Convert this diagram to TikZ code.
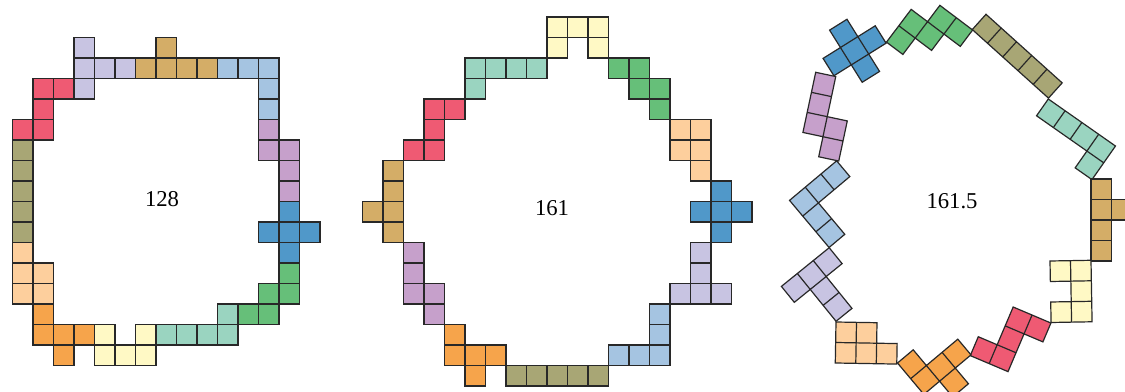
\documentclass[tikz,border=0pt]{standalone}
\usepackage{fontspec}
\setmainfont{Liberation Serif}
\definecolor{pLav}{RGB}{200,196,226}
\definecolor{pRed}{RGB}{239,90,115}
\definecolor{pOlive}{RGB}{168,166,117}
\definecolor{pPeach}{RGB}{253,207,157}
\definecolor{pOrange}{RGB}{246,164,75}
\definecolor{pYellow}{RGB}{255,249,197}
\definecolor{pTeal}{RGB}{154,212,192}
\definecolor{pGreen}{RGB}{102,191,121}
\definecolor{pBlue}{RGB}{80,152,201}
\definecolor{pMauve}{RGB}{198,160,203}
\definecolor{pSky}{RGB}{165,196,225}
\definecolor{pTan}{RGB}{212,173,103}
\definecolor{pEdge}{RGB}{40,40,40}
\tikzset{every picture/.style={line width=0.75pt}}
\tikzset{cell/.style={draw=pEdge,line width=0.9pt}}

\begin{document}
\begin{tikzpicture}[x=0.75pt,y=0.75pt,yscale=-1,xscale=1]
\useasboundingbox (0,0) rectangle (1125,392);

%Ring 128
\begin{scope}[shift={(12.5,37.5)},scale=20.5]
%Shape: T
\draw[cell,fill=pLav] (3,0) rectangle +(1,1) (3,1) rectangle +(1,1) (4,1) rectangle +(1,1) (5,1) rectangle +(1,1) (3,2) rectangle +(1,1);
%Shape: Z
\draw[cell,fill=pRed] (1,2) rectangle +(1,1) (2,2) rectangle +(1,1) (1,3) rectangle +(1,1) (0,4) rectangle +(1,1) (1,4) rectangle +(1,1);
%Shape: I
\draw[cell,fill=pOlive] (0,5) rectangle +(1,1) (0,6) rectangle +(1,1) (0,7) rectangle +(1,1) (0,8) rectangle +(1,1) (0,9) rectangle +(1,1);
%Shape: P
\draw[cell,fill=pPeach] (0,10) rectangle +(1,1) (0,11) rectangle +(1,1) (1,11) rectangle +(1,1) (0,12) rectangle +(1,1) (1,12) rectangle +(1,1);
%Shape: F
\draw[cell,fill=pOrange] (1,13) rectangle +(1,1) (1,14) rectangle +(1,1) (2,14) rectangle +(1,1) (3,14) rectangle +(1,1) (2,15) rectangle +(1,1);
%Shape: U
\draw[cell,fill=pYellow] (4,14) rectangle +(1,1) (4,15) rectangle +(1,1) (5,15) rectangle +(1,1) (6,15) rectangle +(1,1) (6,14) rectangle +(1,1);
%Shape: L
\draw[cell,fill=pTeal] (7,14) rectangle +(1,1) (8,14) rectangle +(1,1) (9,14) rectangle +(1,1) (10,14) rectangle +(1,1) (10,13) rectangle +(1,1);
%Shape: W
\draw[cell,fill=pGreen] (11,13) rectangle +(1,1) (12,13) rectangle +(1,1) (12,12) rectangle +(1,1) (13,12) rectangle +(1,1) (13,11) rectangle +(1,1);
%Shape: X
\draw[cell,fill=pBlue] (13,8) rectangle +(1,1) (12,9) rectangle +(1,1) (13,9) rectangle +(1,1) (14,9) rectangle +(1,1) (13,10) rectangle +(1,1);
%Shape: N
\draw[cell,fill=pMauve] (12,4) rectangle +(1,1) (12,5) rectangle +(1,1) (13,5) rectangle +(1,1) (13,6) rectangle +(1,1) (13,7) rectangle +(1,1);
%Shape: V
\draw[cell,fill=pSky] (10,1) rectangle +(1,1) (11,1) rectangle +(1,1) (12,1) rectangle +(1,1) (12,2) rectangle +(1,1) (12,3) rectangle +(1,1);
%Shape: Y
\draw[cell,fill=pTan] (6,1) rectangle +(1,1) (7,1) rectangle +(1,1) (8,1) rectangle +(1,1) (9,1) rectangle +(1,1) (7,0) rectangle +(1,1);
\end{scope}

%Ring 161
\begin{scope}[shift={(362.5,17)},scale=20.5]
%Shape: U
\draw[cell,fill=pYellow] (9,0) rectangle +(1,1) (10,0) rectangle +(1,1) (11,0) rectangle +(1,1) (9,1) rectangle +(1,1) (11,1) rectangle +(1,1);
%Shape: L
\draw[cell,fill=pTeal] (5,2) rectangle +(1,1) (6,2) rectangle +(1,1) (7,2) rectangle +(1,1) (8,2) rectangle +(1,1) (5,3) rectangle +(1,1);
%Shape: Z
\draw[cell,fill=pRed] (3,4) rectangle +(1,1) (4,4) rectangle +(1,1) (3,5) rectangle +(1,1) (2,6) rectangle +(1,1) (3,6) rectangle +(1,1);
%Shape: Y
\draw[cell,fill=pTan] (1,7) rectangle +(1,1) (1,8) rectangle +(1,1) (0,9) rectangle +(1,1) (1,9) rectangle +(1,1) (1,10) rectangle +(1,1);
%Shape: N
\draw[cell,fill=pMauve] (2,11) rectangle +(1,1) (2,12) rectangle +(1,1) (2,13) rectangle +(1,1) (3,13) rectangle +(1,1) (3,14) rectangle +(1,1);
%Shape: F
\draw[cell,fill=pOrange] (4,15) rectangle +(1,1) (4,16) rectangle +(1,1) (5,16) rectangle +(1,1) (6,16) rectangle +(1,1) (5,17) rectangle +(1,1);
%Shape: I
\draw[cell,fill=pOlive] (7,17) rectangle +(1,1) (8,17) rectangle +(1,1) (9,17) rectangle +(1,1) (10,17) rectangle +(1,1) (11,17) rectangle +(1,1);
%Shape: V
\draw[cell,fill=pSky] (12,16) rectangle +(1,1) (13,16) rectangle +(1,1) (14,16) rectangle +(1,1) (14,15) rectangle +(1,1) (14,14) rectangle +(1,1);
%Shape: T
\draw[cell,fill=pLav] (15,13) rectangle +(1,1) (16,13) rectangle +(1,1) (17,13) rectangle +(1,1) (16,12) rectangle +(1,1) (16,11) rectangle +(1,1);
%Shape: X
\draw[cell,fill=pBlue] (17,8) rectangle +(1,1) (16,9) rectangle +(1,1) (17,9) rectangle +(1,1) (18,9) rectangle +(1,1) (17,10) rectangle +(1,1);
%Shape: P
\draw[cell,fill=pPeach] (15,5) rectangle +(1,1) (16,5) rectangle +(1,1) (15,6) rectangle +(1,1) (16,6) rectangle +(1,1) (16,7) rectangle +(1,1);
%Shape: W
\draw[cell,fill=pGreen] (12,2) rectangle +(1,1) (13,2) rectangle +(1,1) (13,3) rectangle +(1,1) (14,3) rectangle +(1,1) (14,4) rectangle +(1,1);
\end{scope}

%Ring 161.5
%Shape: X
\begin{scope}[shift={(812.2,41)},rotate=-32,scale=20.5]
\draw[cell,fill=pBlue] (1,0) rectangle +(1,1) (0,1) rectangle +(1,1) (1,1) rectangle +(1,1) (2,1) rectangle +(1,1) (1,2) rectangle +(1,1);
\end{scope}
%Shape: W
\begin{scope}[shift={(923.5,-7)},rotate=37,scale=20.5]
\draw[cell,fill=pGreen] (0,1) rectangle +(1,1) (0,2) rectangle +(1,1) (1,1) rectangle +(1,1) (1,0) rectangle +(1,1) (2,0) rectangle +(1,1);
\end{scope}
%Shape: I
\begin{scope}[shift={(986,14.3)},rotate=42,scale=20.5]
\draw[cell,fill=pOlive] (0,0) rectangle +(1,1) (1,0) rectangle +(1,1) (2,0) rectangle +(1,1) (3,0) rectangle +(1,1) (4,0) rectangle +(1,1);
\end{scope}
%Shape: L
\begin{scope}[shift={(1048.3,99)},rotate=35,scale=20.5]
\draw[cell,fill=pTeal] (0,0) rectangle +(1,1) (1,0) rectangle +(1,1) (2,0) rectangle +(1,1) (3,0) rectangle +(1,1) (3,1) rectangle +(1,1);
\end{scope}
%Shape: Y
\begin{scope}[shift={(1091,179)},scale=20.5]
\draw[cell,fill=pTan] (0,0) rectangle +(1,1) (0,1) rectangle +(1,1) (0,2) rectangle +(1,1) (0,3) rectangle +(1,1) (1,1) rectangle +(1,1);
\end{scope}
%Shape: U
\begin{scope}[shift={(1050,261)},rotate=-1,scale=20.5]
\draw[cell,fill=pYellow] (0,0) rectangle +(1,1) (1,0) rectangle +(1,1) (1,1) rectangle +(1,1) (0,2) rectangle +(1,1) (1,2) rectangle +(1,1);
\end{scope}
%Shape: Z
\begin{scope}[shift={(994.3,299)},rotate=23,scale=20.5]
\draw[cell,fill=pRed] (1,0) rectangle +(1,1) (2,0) rectangle +(1,1) (1,1) rectangle +(1,1) (0,2) rectangle +(1,1) (1,2) rectangle +(1,1);
\end{scope}
%Shape: F
\begin{scope}[shift={(897.5,363)},rotate=-40,scale=20.5]
\draw[cell,fill=pOrange] (0,0) rectangle +(1,1) (0,1) rectangle +(1,1) (1,1) rectangle +(1,1) (2,1) rectangle +(1,1) (1,2) rectangle +(1,1);
\end{scope}
%Shape: P
\begin{scope}[shift={(836,322)},rotate=1,scale=20.5]
\draw[cell,fill=pPeach] (0,0) rectangle +(1,1) (1,0) rectangle +(1,1) (0,1) rectangle +(1,1) (1,1) rectangle +(1,1) (2,1) rectangle +(1,1);
\end{scope}
%Shape: T
\begin{scope}[shift={(781.4,286.4)},rotate=-39,scale=20.5]
\draw[cell,fill=pLav] (0,0) rectangle +(1,1) (1,0) rectangle +(1,1) (2,0) rectangle +(1,1) (1,1) rectangle +(1,1) (1,2) rectangle +(1,1);
\end{scope}
%Shape: V
\begin{scope}[shift={(836.65,160.85)},rotate=50,scale=20.5]
\draw[cell,fill=pSky] (0,0) rectangle +(1,1) (0,1) rectangle +(1,1) (0,2) rectangle +(1,1) (1,2) rectangle +(1,1) (2,2) rectangle +(1,1);
\end{scope}
%Shape: N
\begin{scope}[shift={(815.7,72.3)},rotate=12,scale=20.5]
\draw[cell,fill=pMauve] (0,0) rectangle +(1,1) (0,1) rectangle +(1,1) (0,2) rectangle +(1,1) (1,2) rectangle +(1,1) (1,3) rectangle +(1,1);
\end{scope}

% Text Node
\node (valA) at (162,199) [font=\fontsize{17}{20}\selectfont] {128};
% Text Node
\node (valB) at (552,208) [font=\fontsize{17}{20}\selectfont] {161};
% Text Node
\node (valC) at (952,201) [font=\fontsize{17}{20}\selectfont] {161.5};

\end{tikzpicture}
\end{document}
